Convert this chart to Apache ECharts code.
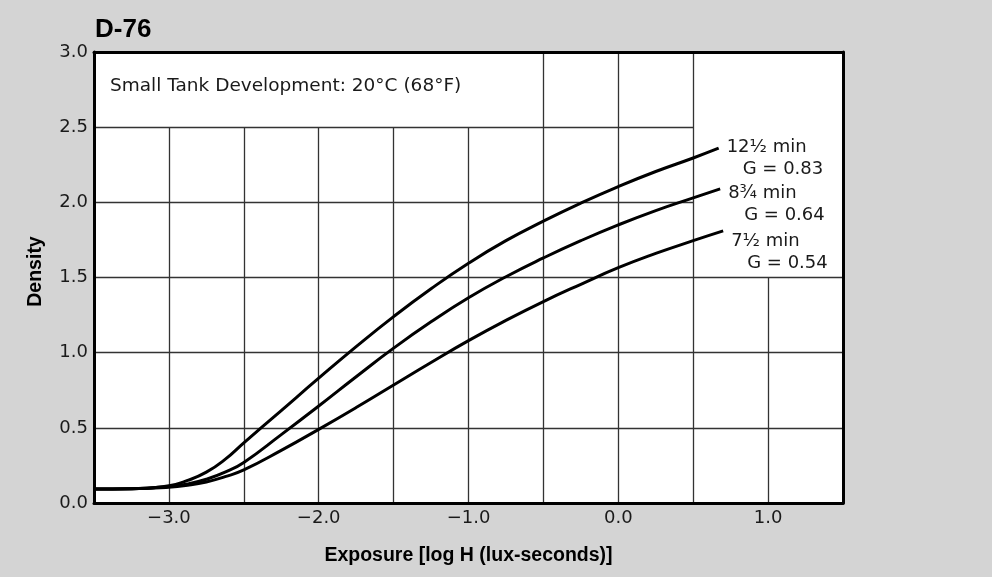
<!DOCTYPE html>
<html>
<head>
<meta charset="utf-8">
<script src="https://cdn.jsdelivr.net/npm/echarts@6/dist/echarts.min.js"></script>
<style>
html,body{margin:0;padding:0;background:#d4d4d4;}
#chart{width:992px;height:577px;}
</style>
</head>
<body>
<div id="chart"></div>
<script>
// ---- data ----
const logH    = [-3.5, -3.25, -3.0, -2.875, -2.75, -2.625, -2.5, -2.25, -2.0, -1.75, -1.5, -1.25, -1.0, -0.75, -0.5, -0.25, 0.0, 0.25, 0.5];
const dens125 = [0.093, 0.095, 0.115, 0.15, 0.205, 0.29, 0.40, 0.615, 0.83, 1.04, 1.24, 1.425, 1.595, 1.745, 1.875, 1.995, 2.105, 2.205, 2.295];
const dens875 = [0.093, 0.095, 0.110, 0.127, 0.158, 0.205, 0.27, 0.455, 0.645, 0.84, 1.03, 1.205, 1.365, 1.505, 1.63, 1.745, 1.85, 1.945, 2.03];
const dens75  = [0.093, 0.095, 0.105, 0.118, 0.14, 0.175, 0.22, 0.35, 0.49, 0.635, 0.785, 0.935, 1.08, 1.215, 1.34, 1.455, 1.565, 1.66, 1.745];
const endLogH = [0.67, 0.68, 0.70];
const endDens = [2.36, 2.09, 1.81];
const times = ['12½ min', '8¾ min', '7½ min'];
const gammas = ['0.83', '0.64', '0.54'];
const xTicks = [-3.0, -2.5, -2.0, -1.5, -1.0, -0.5, 0.0, 0.5, 1.0];
const yTicks = [0.5, 1.0, 1.5, 2.0, 2.5];
const xRange = [-3.5, 1.5];
const yRange = [0, 3.0];
// label boxes where the grid is left blank
const boxes = [
  {x0: -3.5, x1: -0.5, y0: 2.5, y1: 3.0},
  {x0: 0.5, x1: 1.5, y0: 1.5, y1: 3.0}
];

function curve(ys, i) {
  const pts = logH.map((x, k) => [x, ys[k]]);
  pts.push([endLogH[i], endDens[i]]);
  return pts;
}

// grid lines clipped against the label boxes
const gridSegs = [];
xTicks.forEach(x => {
  let top = yRange[1];
  boxes.forEach(b => { if (x > b.x0 && x < b.x1) top = Math.min(top, b.y0); });
  gridSegs.push([{coord: [x, yRange[0]]}, {coord: [x, top]}]);
});
yTicks.forEach(y => {
  let right = xRange[1];
  boxes.forEach(b => { if (y > b.y0 && y < b.y1) right = Math.min(right, b.x0); });
  gridSegs.push([{coord: [xRange[0], y]}, {coord: [right, y]}]);
});

const FONT = '"DejaVu Sans", "Liberation Sans", Arial, sans-serif';
const BOLD = '"Liberation Sans", Arial, Helvetica, sans-serif';
const ink = '#1a1a1a';

function fmtX(v) {
  if (Math.abs(v - Math.round(v)) > 1e-9) return '';
  const r = Math.round(v);
  return (r < 0 ? '\u2212' : '') + Math.abs(r).toFixed(1);
}

const labelOffsets = [[0, 10], [0, 16], [0, 21]];

function curveSeries(ys, i) {
  return {
    type: 'line',
    name: times[i],
    data: curve(ys, i),
    smooth: 0.5,
    symbol: 'none',
    z: 5,
    lineStyle: {color: '#000', width: 3},
    endLabel: {
      show: true,
      distance: 8,
      offset: labelOffsets[i],
      align: 'left',
      verticalAlign: 'middle',
      formatter: () => '{t|' + times[i] + '}\n{g|G = ' + gammas[i] + '}',
      rich: {
        t: {fontFamily: FONT, fontSize: 18, color: ink, lineHeight: 22},
        g: {fontFamily: FONT, fontSize: 18, color: ink, lineHeight: 22, padding: [0, 0, 0, 16]}
      }
    }
  };
}

const chart = echarts.init(document.getElementById('chart'), null, {renderer: 'canvas'});
chart.setOption({
  animation: false,
  backgroundColor: '#d4d4d4',
  textStyle: {fontFamily: FONT},
  title: [
    {text: 'D-76', left: 95, top: 17, padding: 0,
     textStyle: {fontFamily: BOLD, fontSize: 26, fontWeight: 'bold', color: '#000'}},
    {text: 'Small Tank Development: 20°C (68°F)', left: 110, top: 77, padding: 0,
     textStyle: {fontFamily: FONT, fontSize: 18.5, fontWeight: 'normal', color: ink}}
  ],
  grid: {left: 94, right: 149, top: 52, bottom: 74, show: true, backgroundColor: '#fff', borderWidth: 0},
  xAxis: [
    {type: 'value', min: xRange[0], max: xRange[1], interval: 0.5, position: 'bottom', z: 10,
     name: 'Exposure [log H (lux-seconds)]', nameLocation: 'middle', nameGap: 43,
     nameTextStyle: {fontFamily: BOLD, fontSize: 19.5, fontWeight: 'bold', color: '#000'},
     axisLine: {show: true, onZero: false, lineStyle: {color: '#000', width: 3}},
     axisTick: {show: false}, splitLine: {show: false},
     axisLabel: {formatter: fmtX, fontFamily: FONT, fontSize: 18, color: ink, margin: 6,
                 showMinLabel: true, showMaxLabel: true, hideOverlap: false}},
    {type: 'value', min: xRange[0], max: xRange[1], interval: 0.5, position: 'top', z: 10,
     axisLine: {show: true, onZero: false, lineStyle: {color: '#000', width: 3}},
     axisTick: {show: false}, splitLine: {show: false}, axisLabel: {show: false}}
  ],
  yAxis: [
    {type: 'value', min: yRange[0], max: yRange[1], interval: 0.5, position: 'left', z: 10,
     name: 'Density', nameLocation: 'middle', nameGap: 48, nameRotate: 90,
     nameTextStyle: {fontFamily: BOLD, fontSize: 19.5, fontWeight: 'bold', color: '#000', padding: [0, 0, 0, 12]},
     axisLine: {show: true, onZero: false, lineStyle: {color: '#000', width: 3}},
     axisTick: {show: false}, splitLine: {show: false},
     axisLabel: {formatter: v => v.toFixed(1), fontFamily: FONT, fontSize: 18, color: ink, margin: 6,
                 showMinLabel: true, showMaxLabel: true}},
    {type: 'value', min: yRange[0], max: yRange[1], interval: 0.5, position: 'right', z: 10,
     axisLine: {show: true, onZero: false, lineStyle: {color: '#000', width: 3}},
     axisTick: {show: false}, splitLine: {show: false}, axisLabel: {show: false}}
  ],
  series: [
    {type: 'line', data: [], z: 1, silent: true,
     markLine: {silent: true, symbol: 'none', animation: false, label: {show: false},
                lineStyle: {color: '#333', width: 1.3, type: 'solid'}, data: gridSegs}},
    curveSeries(dens125, 0),
    curveSeries(dens875, 1),
    curveSeries(dens75, 2)
  ]
});
</script>
</body>
</html>
